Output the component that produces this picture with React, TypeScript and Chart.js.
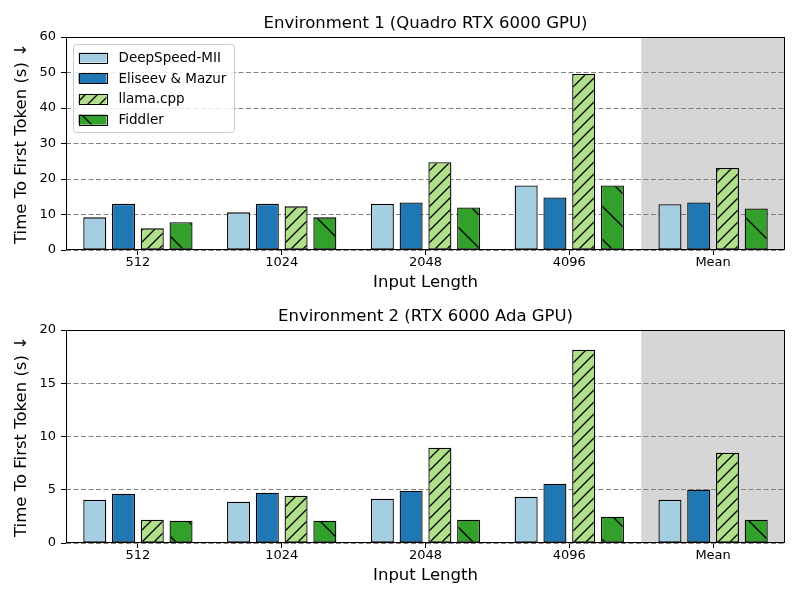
import React, { useEffect, useRef } from 'react';
import { Chart, registerables } from 'chart.js';

Chart.register(...registerables);

const categories = ['512', '1024', '2048', '4096', 'Mean'];
const seriesNames = ['DeepSpeed-MII', 'Eliseev & Mazur', 'llama.cpp', 'Fiddler'];

const env1DeepSpeed = [9.2, 10.6, 13.0, 18.2, 12.9];
const env1Eliseev = [13.0, 13.0, 13.4, 14.8, 13.4];
const env1Llama = [6.1, 12.3, 24.7, 49.6, 23.1];
const env1Fiddler = [7.8, 9.2, 12.0, 18.2, 11.7];

const env2DeepSpeed = [4.07, 3.88, 4.16, 4.35, 4.07];
const env2Eliseev = [4.63, 4.72, 4.91, 5.57, 5.0];
const env2Llama = [2.19, 4.44, 8.95, 18.15, 8.48];
const env2Fiddler = [2.1, 2.1, 2.19, 2.47, 2.19];

const env1Title = 'Environment 1 (Quadro RTX 6000 GPU)';
const env2Title = 'Environment 2 (RTX 6000 Ada GPU)';
const xTitle = 'Input Length';
const yTitle = 'Time To First Token (s) \u2193';

const seriesColors = ['#a6cee3', '#1f78b4', '#b2df8a', '#33a02c'];
const seriesHatches = ['', '', '/', '\\'];
const hatchSpacing = [0, 0, 12, 33];

Chart.defaults.font.family = '"DejaVu Sans", sans-serif';
Chart.defaults.color = '#000';

function makeFill(color: string, hatch: string, s: number): any {
  if (!hatch) return color;
  const c = document.createElement('canvas');
  c.width = s;
  c.height = s;
  const x = c.getContext('2d')!;
  x.fillStyle = color;
  x.fillRect(0, 0, s, s);
  x.strokeStyle = '#000';
  x.lineWidth = 1.3;
  x.beginPath();
  if (hatch === '/') {
    x.moveTo(0, s); x.lineTo(s, 0);
    x.moveTo(-2, 2); x.lineTo(2, -2);
    x.moveTo(s - 2, s + 2); x.lineTo(s + 2, s - 2);
  } else {
    x.moveTo(0, 0); x.lineTo(s, s);
    x.moveTo(-2, s - 2); x.lineTo(2, s + 2);
    x.moveTo(s - 2, -2); x.lineTo(s + 2, 2);
  }
  x.stroke();
  return x.createPattern(c, 'repeat');
}

const shadePlugin = {
  id: 'shade',
  beforeDraw(chart: any) {
    const { ctx, chartArea } = chart;
    const xs = chart.scales.x;
    const x0 = (xs.getPixelForValue(3) + xs.getPixelForValue(4)) / 2;
    ctx.save();
    ctx.fillStyle = '#d6d6d6';
    ctx.fillRect(x0, chartArea.top, chartArea.right - x0, chartArea.bottom - chartArea.top);
    ctx.restore();
  },
};

const framePlugin = {
  id: 'frame',
  afterDraw(chart: any) {
    const { ctx, chartArea } = chart;
    ctx.save();
    ctx.strokeStyle = '#000';
    ctx.lineWidth = 1;
    const l = Math.round(chartArea.left) + 0.5;
    const t = Math.round(chartArea.top) + 0.5;
    const r = Math.round(chartArea.right) - 0.5;
    const b = Math.round(chartArea.bottom) - 0.5;
    ctx.strokeRect(l, t, r - l, b - t);
    ctx.restore();
  },
};

function makeLegendPlugin(fills: any[]) {
  return {
    id: 'customLegend',
    afterDraw(chart: any) {
      const { ctx, chartArea } = chart;
      const bx = chartArea.left + 7.5;
      const by = chartArea.top + 7.5;
      const bw = 161;
      const bh = 88;
      ctx.save();
      ctx.beginPath();
      const r = 3;
      ctx.moveTo(bx + r, by);
      ctx.lineTo(bx + bw - r, by);
      ctx.arcTo(bx + bw, by, bx + bw, by + r, r);
      ctx.lineTo(bx + bw, by + bh - r);
      ctx.arcTo(bx + bw, by + bh, bx + bw - r, by + bh, r);
      ctx.lineTo(bx + r, by + bh);
      ctx.arcTo(bx, by + bh, bx, by + bh - r, r);
      ctx.lineTo(bx, by + r);
      ctx.arcTo(bx, by, bx + r, by, r);
      ctx.closePath();
      ctx.fillStyle = 'rgba(255,255,255,0.85)';
      ctx.fill();
      ctx.strokeStyle = '#cccccc';
      ctx.lineWidth = 1;
      ctx.stroke();
      ctx.font = '13.5px "DejaVu Sans", sans-serif';
      ctx.textBaseline = 'middle';
      ctx.textAlign = 'left';
      seriesNames.forEach((name, i) => {
        const cy = by + 13 + i * 20.7;
        const px = bx + 5;
        ctx.fillStyle = fills[i];
        ctx.fillRect(px, cy - 5, 28, 10);
        ctx.strokeStyle = '#000';
        ctx.lineWidth = 1;
        ctx.strokeRect(Math.round(px) + 0.5, Math.round(cy - 5) + 0.5, 28, 10);
        ctx.fillStyle = '#000';
        ctx.fillText(name, bx + 45, cy + 1);
      });
      ctx.restore();
    },
  };
}

type PanelProps = {
  title: string;
  series: number[][];
  yMax: number;
  yStep: number;
  titlePad: { top: number; bottom: number };
  xAxisHeight: number;
  xTitlePadBottom: number;
  showLegend: boolean;
};

function Panel(props: PanelProps) {
  const ref = useRef<HTMLCanvasElement | null>(null);
  useEffect(() => {
    if (!ref.current) return;
    const fills = seriesColors.map((c, i) => makeFill(c, seriesHatches[i], hatchSpacing[i]));
    const plugins: any[] = [shadePlugin, framePlugin];
    if (props.showLegend) plugins.push(makeLegendPlugin(fills));
    const chart = new Chart(ref.current, {
      type: 'bar',
      data: {
        labels: categories,
        datasets: props.series.map((vals, i) => ({
          label: seriesNames[i],
          data: vals,
          backgroundColor: fills[i],
          borderColor: '#000',
          borderWidth: 1.3,
          borderSkipped: false,
          categoryPercentage: 0.8,
          barPercentage: 0.8,
        })),
      },
      options: {
        animation: false,
        responsive: false,
        devicePixelRatio: 1,
        layout: { padding: { left: 0, right: 15, top: 0, bottom: 0 } },
        plugins: {
          legend: { display: false },
          tooltip: { enabled: false },
          title: {
            display: true,
            text: props.title,
            fullSize: false,
            color: '#000',
            font: { size: 16.5, weight: 'normal', lineHeight: 1.2 },
            padding: props.titlePad,
          },
        },
        scales: {
          x: {
            type: 'category',
            offset: true,
            grid: {
              display: true,
              drawOnChartArea: false,
              drawTicks: true,
              tickLength: 5,
              tickColor: '#000',
              offset: false,
            },
            border: { display: false },
            ticks: { font: { size: 13, lineHeight: 1.2 }, padding: 0, color: '#000' },
            title: {
              display: true,
              text: xTitle,
              color: '#000',
              font: { size: 16.5, lineHeight: 1.2 },
              padding: { top: 0, bottom: props.xTitlePadBottom },
            },
            afterFit: (s: any) => { s.height = props.xAxisHeight; },
          },
          y: {
            min: 0,
            max: props.yMax,
            ticks: { stepSize: props.yStep, font: { size: 13, lineHeight: 1.2 }, padding: 5, color: '#000' },
            grid: {
              color: '#808080',
              lineWidth: 1,
              tickLength: 5,
              tickColor: '#000',
              tickBorderDash: [],
            },
            border: { display: false, dash: [5, 2.5] },
            title: {
              display: true,
              text: yTitle,
              color: '#000',
              font: { size: 16.5, lineHeight: 1.2 },
              padding: { top: 11.6, bottom: 0 },
            },
            afterFit: (s: any) => { s.width = 66; },
          },
        },
      } as any,
      plugins,
    });
    return () => chart.destroy();
  }, []);
  return <canvas ref={ref} width={800} height={300} style={{ display: 'block', width: 800, height: 300 }} />;
}

export default function App() {
  return (
    <div style={{ position: 'absolute', left: 0, top: 0, width: 800, height: 600, background: '#fff' }}>
      <Panel
        title={env1Title}
        series={[env1DeepSpeed, env1Eliseev, env1Llama, env1Fiddler]}
        yMax={60}
        yStep={10}
        titlePad={{ top: 13.6, bottom: 3.6 }}
        xAxisHeight={50}
        xTitlePadBottom={7.1}
        showLegend={true}
      />
      <Panel
        title={env2Title}
        series={[env2DeepSpeed, env2Eliseev, env2Llama, env2Fiddler]}
        yMax={20}
        yStep={5}
        titlePad={{ top: 6.6, bottom: 3.6 }}
        xAxisHeight={57}
        xTitlePadBottom={14.1}
        showLegend={false}
      />
    </div>
  );
}
